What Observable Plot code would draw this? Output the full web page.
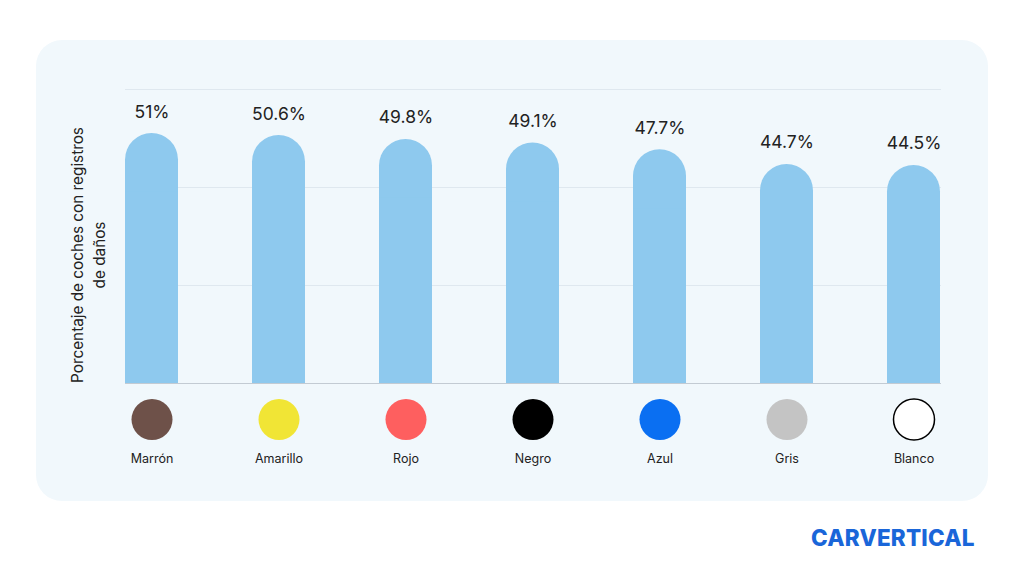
<!DOCTYPE html>
<html><head><meta charset="utf-8">
<script src="https://cdn.jsdelivr.net/npm/d3@7"></script>
<script src="https://cdn.jsdelivr.net/npm/@observablehq/plot@0.6"></script>
<style>
body{margin:0;background:#fff;font-family:Inter,"Noto Sans",sans-serif;}
#wrap{position:relative;width:1024px;height:576px;overflow:hidden;}
#card{position:absolute;left:36px;top:40px;width:952px;height:461px;background:#f1f8fc;border-radius:26px;}
#chart{position:absolute;left:0;top:0;}
#logo{position:absolute;left:811px;top:524px;font-family:Inter,sans-serif;font-weight:800;font-size:22.5px;color:#1a66d9;letter-spacing:0.2px;}
</style></head>
<body><div id="wrap"><div id="card"></div><div id="chart"></div><div id="logo">CARVERTICAL</div></div>
<script>
const categories = ["Marrón","Amarillo","Rojo","Negro","Azul","Gris","Blanco"];
const values = [51, 50.6, 49.8, 49.1, 47.7, 44.7, 44.5];
const valueLabels = ["51%","50.6%","49.8%","49.1%","47.7%","44.7%","44.5%"];
const swatchColors = ["#6e5149","#f1e535","#fe5f5f","#000000","#0a6ff2","#c4c4c4","#ffffff"];
const swatchStrokes = ["none","none","none","none","none","none","#000000"];
const gridTicks = [20, 40, 60];
const yLabel = "Porcentaje de coches con registros\nde daños";

const data = categories.map((c,i)=>({cat:c, v:values[i], label:valueLabels[i], fill:swatchColors[i], stroke:swatchStrokes[i]}));

const plot = Plot.plot({
  width: 1024, height: 576,
  marginLeft: 125, marginRight: 83, marginTop: 89, marginBottom: 193,
  style: {background: "transparent", fontFamily: "Inter, 'Noto Sans', sans-serif"},
  x: {domain: categories, paddingInner: 0.58, paddingOuter: 0, axis: null},
  y: {domain: [0, 60], axis: null},
  marks: [
    Plot.ruleY(gridTicks, {stroke: "#dfe8ef", strokeWidth: 1}),
    Plot.barY(data, {x: "cat", y: "v", fill: "#8ec9ee", rx: 26.5}),
    Plot.barY(data, {x: "cat", y1: 0, y2: d => d.v - 12, fill: "#8ec9ee"}),
    Plot.ruleY([0], {stroke: "#c3cbd3", strokeWidth: 1.2}),
    Plot.text(data, {x: "cat", y: "v", text: "label", dy: -16, fontSize: 17.5, fill: "#222", lineAnchor: "bottom"}),
    Plot.dot(data, {x: "cat", frameAnchor: "bottom", dy: 36, r: 20.5, fill: "fill", stroke: "stroke", strokeWidth: 1.5}),
    Plot.text(data, {x: "cat", frameAnchor: "bottom", text: "cat", fontSize: 12.5, fill: "#222", lineAnchor: "top", dy: 71}),
    Plot.text([yLabel], {frameAnchor: "left", textAnchor: "middle", dx: -39, dy: 18.5, rotate: -90, text: d => d, fontSize: 15.3, fill: "#222", lineHeight: 1.45})
  ]
});
document.getElementById("chart").appendChild(plot);
</script></body></html>
